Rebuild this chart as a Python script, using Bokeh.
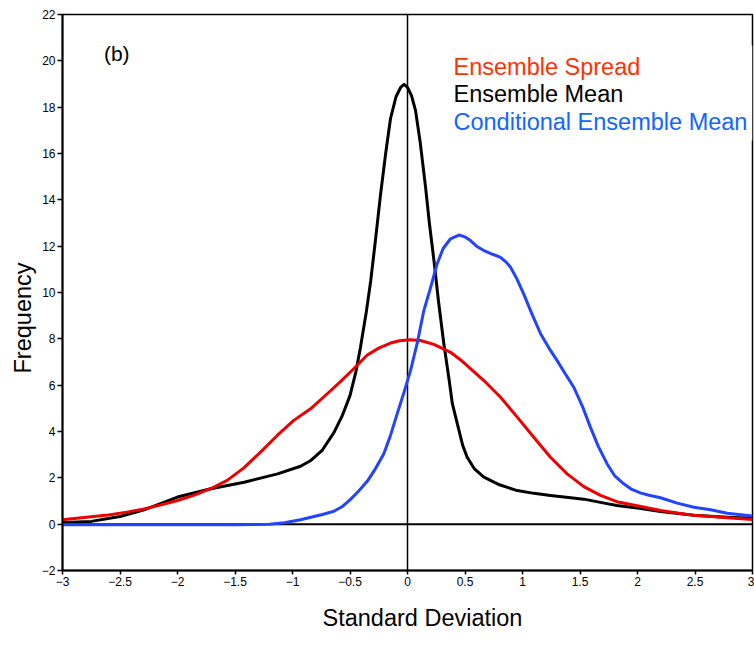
from bokeh.plotting import figure
from bokeh.models import FixedTicker, Label, BoxAnnotation, Span, Range1d, Title
from bokeh.embed import file_html
from bokeh.resources import INLINE

# ---- data ----
spread_x = [-3.0, -2.73, -2.6, -2.44, -2.3, -2.15, -2.0, -1.86, -1.713, -1.568, -1.423, -1.278,
            -1.133, -0.989, -0.843, -0.698, -0.583, -0.47, -0.35, -0.25, -0.148, -0.07, 0.026,
            0.113, 0.229, 0.374, 0.46, 0.664, 0.809, 0.954, 1.098, 1.243, 1.388, 1.533, 1.678,
            1.82, 2.03, 2.2, 2.49, 2.78, 3.0]
spread_y = [0.19, 0.33, 0.4, 0.52, 0.65, 0.83, 1.02, 1.24, 1.53, 1.89, 2.43, 3.11,
            3.83, 4.48, 4.98, 5.63, 6.15, 6.7, 7.3, 7.6, 7.82, 7.92, 7.96,
            7.93, 7.76, 7.42, 7.1, 6.2, 5.48, 4.62, 3.75, 2.89, 2.17, 1.62, 1.24,
            0.97, 0.76, 0.59, 0.38, 0.28, 0.2]

mean_x = [-3.0, -2.75, -2.5, -2.29, -2.0, -1.71, -1.42, -1.13, -0.93, -0.84, -0.74, -0.64,
          -0.57, -0.50, -0.45, -0.41, -0.36, -0.32, -0.28, -0.235, -0.19, -0.148, -0.10,
          -0.06, -0.03, 0.0, 0.035, 0.07, 0.11, 0.157, 0.19, 0.23, 0.27, 0.316, 0.36, 0.39,
          0.44, 0.48, 0.519, 0.58, 0.664, 0.8, 0.954, 1.1, 1.243, 1.4, 1.533, 1.7, 1.82,
          2.03, 2.2, 2.49, 2.78, 3.0]
mean_y = [0.07, 0.12, 0.33, 0.62, 1.17, 1.53, 1.81, 2.17, 2.5, 2.75, 3.2, 3.95,
          4.65, 5.55, 6.55, 7.6, 9.1, 10.5, 12.2, 14.2, 16.0, 17.5, 18.45,
          18.85, 18.98, 18.85, 18.5, 17.85, 16.5, 14.55, 13.0, 11.38, 9.6, 7.79, 6.3, 5.2,
          4.2, 3.4, 2.89, 2.4, 2.03, 1.7, 1.45, 1.33, 1.24, 1.15, 1.08, 0.92, 0.81,
          0.68, 0.55, 0.38, 0.3, 0.26]

cond_x = [-3.0, -2.0, -1.5, -1.2, -1.07, -0.93, -0.84, -0.74, -0.64, -0.57, -0.5, -0.43,
          -0.35, -0.278, -0.206, -0.15, -0.09, -0.03, 0.026, 0.084, 0.142, 0.2, 0.258, 0.31,
          0.374, 0.447, 0.5, 0.548, 0.6, 0.664, 0.74, 0.809, 0.86, 0.896, 0.95, 1.01, 1.08,
          1.157, 1.23, 1.30, 1.37, 1.446, 1.52, 1.59, 1.66, 1.736, 1.8, 1.88, 1.95, 2.03,
          2.1, 2.2, 2.345, 2.49, 2.635, 2.78, 3.0]
cond_y = [-0.03, -0.03, -0.03, 0.0, 0.06, 0.19, 0.3, 0.42, 0.56, 0.75, 1.05, 1.4,
          1.85, 2.4, 3.04, 3.8, 4.76, 5.7, 6.63, 7.8, 9.22, 10.2, 11.24, 11.9,
          12.32, 12.48, 12.4, 12.24, 12.0, 11.81, 11.65, 11.52, 11.3, 11.09, 10.6, 9.94, 9.1,
          8.22, 7.6, 7.07, 6.5, 5.91, 5.1, 4.19, 3.35, 2.6, 2.1, 1.74, 1.5, 1.34,
          1.25, 1.14, 0.91, 0.73, 0.62, 0.47, 0.35]

x_ticks = [-3, -2.5, -2, -1.5, -1, -0.5, 0, 0.5, 1, 1.5, 2, 2.5, 3]
x_tick_labels = ["\u22123", "\u22122.5", "\u22122", "\u22121.5", "\u22121", "\u22120.5",
                 "0", "0.5", "1", "1.5", "2", "2.5", "3"]
y_ticks = [-2, 0, 2, 4, 6, 8, 10, 12, 14, 16, 18, 20, 22]
y_tick_labels = ["\u22122", "0", "2", "4", "6", "8", "10", "12", "14", "16", "18", "20", "22"]

x_title = "Standard Deviation"
y_title = "Frequency"
panel_tag = "(b)"

legend_labels = ["Ensemble Spread", "Ensemble Mean", "Conditional Ensemble Mean"]
legend_colors = ["#ff3300", "#000000", "#1166ff"]
line_colors = ["#ee0000", "#000000", "#2244ff"]

FONT = "Liberation Sans"

p = figure(width=754, height=646, output_backend="svg", toolbar_location=None,
           x_range=Range1d(-3, 3), y_range=Range1d(-2, 22),
           min_border_left=62, min_border_right=2, min_border_top=14, min_border_bottom=76)
p.grid.visible = False
p.outline_line_color = "black"
p.outline_line_width = 1.5
p.background_fill_color = "white"
p.border_fill_color = "white"

# zero lines
p.add_layout(Span(location=0, dimension="width", line_color="black", line_width=2, level="underlay"))
p.add_layout(Span(location=0, dimension="height", line_color="black", line_width=1.5, level="underlay"))

# curves
p.line(mean_x, mean_y, line_color=line_colors[1], line_width=3, line_join="round")
p.line(spread_x, spread_y, line_color=line_colors[0], line_width=3, line_join="round")
p.line(cond_x, cond_y, line_color=line_colors[2], line_width=3, line_join="round")

# axes
p.xaxis.ticker = FixedTicker(ticks=x_ticks)
p.yaxis.ticker = FixedTicker(ticks=y_ticks)
p.xaxis.major_label_overrides = {t: l for t, l in zip(x_ticks, x_tick_labels)}
p.yaxis.major_label_overrides = {t: l for t, l in zip(y_ticks, y_tick_labels)}
for ax in p.axis:
    ax.axis_line_width = 2
    ax.axis_line_color = "black"
    ax.major_tick_line_width = 1.5
    ax.major_tick_in = 0
    ax.minor_tick_line_color = None
    ax.major_label_text_font = FONT
    ax.major_label_text_font_size = "12px"
    ax.major_label_text_color = "black"
    ax.major_label_standoff = 2
p.yaxis.major_tick_out = 5
p.xaxis.major_tick_out = 4

# axis titles as side titles (offset so they sit where the reference has them)
p.add_layout(Title(text=x_title, align="left", offset=260, standoff=28,
                   text_font=FONT, text_font_size="23.5px", text_font_style="normal",
                   text_color="black"), "below")
p.add_layout(Title(text=y_title, align="left", offset=197, standoff=6,
                   text_font=FONT, text_font_size="23.5px", text_font_style="normal",
                   text_color="black"), "left")

# legend background and texts
p.add_layout(BoxAnnotation(left=0.36, top=20.66, bottom=16.56, fill_color="white",
                           fill_alpha=1.0, line_color=None, level="overlay"))
for i, (lbl, col) in enumerate(zip(legend_labels, legend_colors)):
    p.add_layout(Label(x=0.40, y=19.75 - i * 1.19, text=lbl, text_color=col,
                       text_font=FONT, text_font_size="23.5px", text_baseline="middle",
                       level="overlay"))

p.add_layout(Label(x=-2.64, y=20.3, text=panel_tag, text_color="black", text_font=FONT,
                   text_font_size="21px", text_baseline="middle"))

open("out.html", "w").write(file_html(p, INLINE))
